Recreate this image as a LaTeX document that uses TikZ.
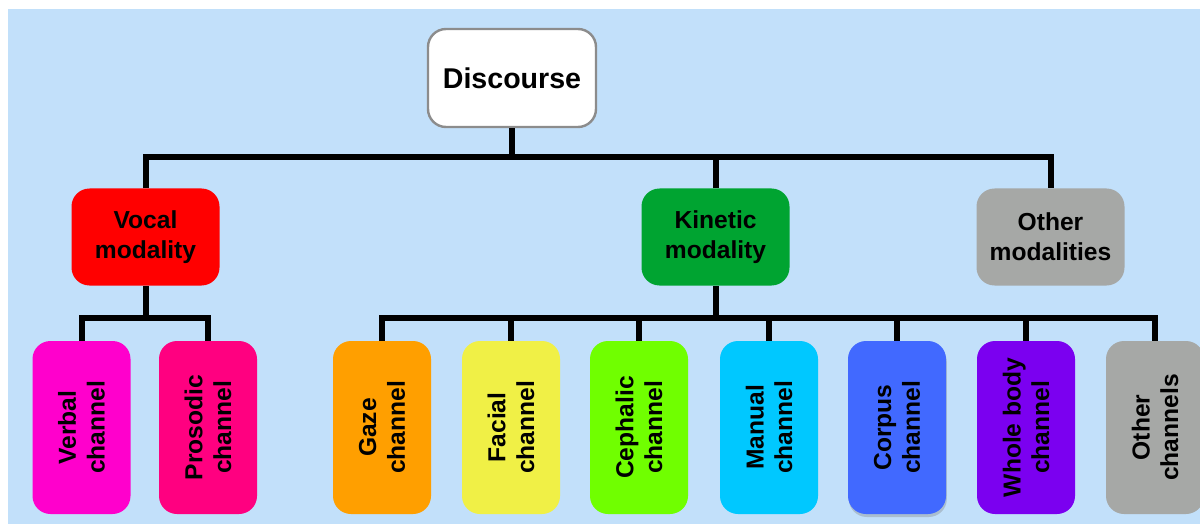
\documentclass[tikz,border=0pt]{standalone}
\usepackage{fontspec}
\setmainfont{Liberation Sans}
\usepackage{tikz}
\usetikzlibrary{shapes.geometric, shadows}
\definecolor{bgblue}{HTML}{C2E0FA}
\definecolor{rootgray}{HTML}{8C8C8C}
\definecolor{vocalred}{HTML}{FF0000}
\definecolor{kinetgreen}{HTML}{00A431}
\definecolor{othergray}{HTML}{A6A8A6}
\definecolor{verbalpink}{HTML}{FF00CC}
\definecolor{prosodpink}{HTML}{FF0080}
\definecolor{gazeorange}{HTML}{FF9F00}
\definecolor{facialyellow}{HTML}{F0F046}
\definecolor{cephalgreen}{HTML}{70FF00}
\definecolor{manualcyan}{HTML}{00C8FF}
\definecolor{corpusblue}{HTML}{4169FF}
\definecolor{wholeviolet}{HTML}{7B00F0}
\tikzstyle{link} = [line width=3pt]
\tikzstyle{root} = [draw=rootgray, line width=1.2pt, fill=white, rounded corners=9pt, minimum width=84pt, minimum height=49pt, font=\fontsize{14.3}{17}\selectfont\bfseries]
\tikzstyle{modality} = [rounded corners=9pt, minimum width=74pt, minimum height=48.5pt, align=center, font=\fontsize{12.3}{15}\selectfont\bfseries]
\tikzstyle{channel} = [rounded corners=9pt, rotate=90, minimum width=86.5pt, minimum height=49pt, align=center, font=\fontsize{12.3}{14.3}\selectfont\bfseries]

\begin{document}
\begin{tikzpicture}[x=0.5pt, y=-0.5pt]
	\useasboundingbox (0,0) rectangle (1200,524);
	\clip (0,0) rectangle (1200,524);
	\fill [bgblue] (8,9) rectangle (1200,524);
	\node [root] (disc) at (512,78) {Discourse};
	\node [modality, fill=vocalred] (vocal) at (145.5,237) {Vocal\\modality};
	\node [modality, fill=kinetgreen] (kinmod) at (715.5,237) {Kinetic\\modality};
	\node [modality, fill=othergray] (othmod) at (1050.5,237) {Other\\modalities};
	\node [channel, fill=verbalpink] (verbal) at (81.5,427.5) {Verbal\\channel};
	\node [channel, fill=prosodpink] (prosodic) at (208,427.5) {Prosodic\\channel};
	\node [channel, fill=gazeorange] (gaze) at (382,427.5) {Gaze\\channel};
	\node [channel, fill=facialyellow] (facial) at (511,427.5) {Facial\\channel};
	\node [channel, fill=cephalgreen] (cephalic) at (639,427.5) {Cephalic\\channel};
	\node [channel, fill=manualcyan] (manual) at (769,427.5) {Manual\\channel};
	\node [channel, fill=corpusblue, drop shadow={opacity=0.35, shadow xshift=0.4pt, shadow yshift=-1.5pt}] (corpus) at (897,427.5) {Corpus\\channel};
	\node [channel, fill=wholeviolet] (whole) at (1026,427.5) {Whole body\\channel};
	\node [channel, fill=othergray] (othch) at (1155,427.5) {Other\\channels};
	\coordinate (topbar) at (511,157);
	\coordinate (vocbar) at (145,318);
	\coordinate (kinbar) at (715,318);
	\draw [link] (disc.south) -- (disc.south |- topbar);
	\draw [link] (vocal.north) |- (topbar) -| (othmod.north);
	\draw [link] (kinmod.north) -- (kinmod.north |- topbar);
	\draw [link] (vocal.south) -- (vocal.south |- vocbar);
	\draw [link] (verbal.east) |- (vocbar) -| (prosodic.east);
	\draw [link] (kinmod.south) -- (kinmod.south |- kinbar);
	\draw [link] (gaze.east) |- (kinbar) -| (othch.east);
	\foreach \ch in {facial, cephalic, manual, corpus, whole}
		\draw [link] (\ch.east) -- (\ch.east |- kinbar);
\end{tikzpicture}
\end{document}
